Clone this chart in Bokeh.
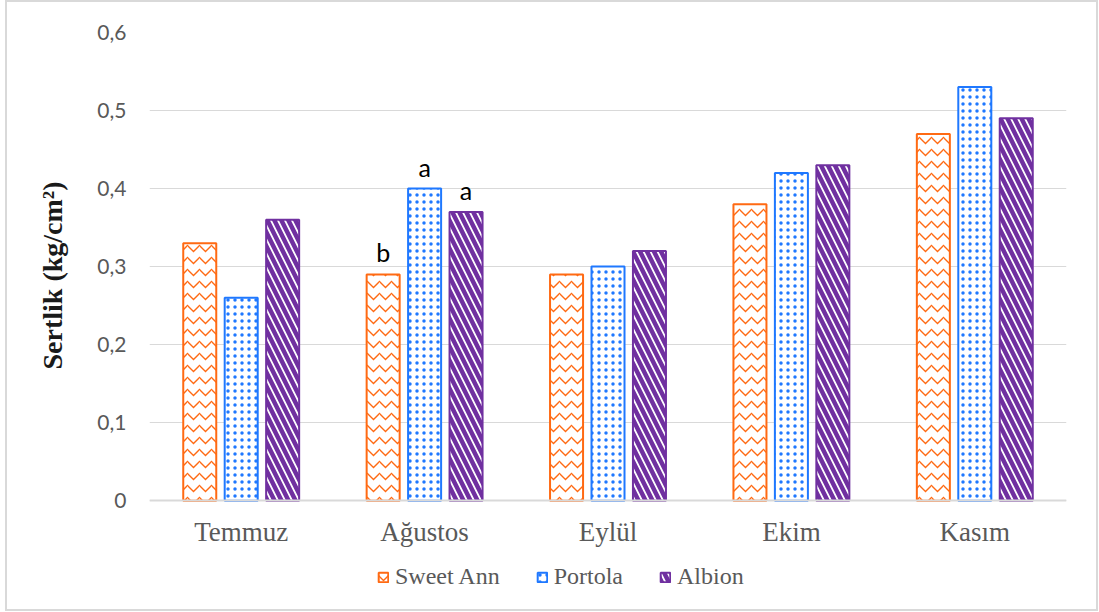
from bokeh.plotting import figure
from bokeh.models import (FactorRange, Range1d, FixedTicker, CustomJSTickFormatter,
                          ColumnDataSource, Legend, LegendItem, Title)
from bokeh.transform import dodge
from bokeh.core.properties import value
from bokeh.embed import file_html
from bokeh.resources import INLINE

months = ["Temmuz", "Ağustos", "Eylül", "Ekim", "Kasım"]
series_names = ["Sweet Ann", "Portola", "Albion"]
sweet_ann = [0.33, 0.29, 0.29, 0.38, 0.47]
portola = [0.26, 0.40, 0.30, 0.42, 0.53]
albion = [0.36, 0.37, 0.32, 0.43, 0.49]
letters_sweet = ["", "b", "", "", ""]
letters_portola = ["", "a", "", "", ""]
letters_albion = ["", "a", "", "", ""]
y_ticks = [0, 0.1, 0.2, 0.3, 0.4, 0.5, 0.6]
y_title = "Sertlik (kg/cm²)"

colors = ["#FF6A13", "#1F78FF", "#7030A0"]
patterns = ["horizontal_wave", "dot", "left_diagonal_line"]
scales = [12, 7, 14]
weights = [1.3, 1.6, 4.5]
offsets = [-0.226, 0.0, 0.226]

src = ColumnDataSource(dict(month=months, s0=sweet_ann, s1=portola, s2=albion,
                            l0=letters_sweet, l1=letters_portola, l2=letters_albion))

# frame extends below zero so the bottom legend can live inside it
p = figure(x_range=FactorRange(*months), y_range=Range1d(-0.1407, 0.6),
           width=1093, height=611, output_backend="svg", toolbar_location=None,
           min_border_left=140, min_border_right=34, min_border_top=30, min_border_bottom=3)
p.outline_line_alpha = 0
p.background_fill_color = "white"
p.border_fill_color = "white"

items = []
for i, col in enumerate(["s0", "s1", "s2"]):
    r = p.vbar(x=dodge("month", offsets[i], range=p.x_range), top=col, width=0.18,
               source=src, fill_color="white", line_color=colors[i], line_width=2,
               hatch_pattern=patterns[i], hatch_color=colors[i], hatch_scale=scales[i],
               hatch_weight=weights[i])
    items.append(LegendItem(label=series_names[i], renderers=[r]))
    p.text(x=dodge("month", offsets[i], range=p.x_range), y=col, text="l%d" % i,
           source=src, text_align="center", text_baseline="bottom", y_offset=-7,
           text_font=value("Lato"), text_font_size="25px", text_color="black")

p.yaxis.ticker = FixedTicker(ticks=y_ticks)
p.yaxis.formatter = CustomJSTickFormatter(code="return tick == 0 ? '0' : tick.toFixed(1).replace('.', ',');")
p.yaxis.axis_line_color = None
p.yaxis.major_tick_line_color = None
p.yaxis.minor_tick_line_color = None
p.yaxis.major_label_text_font = "Lato"
p.yaxis.major_label_text_font_size = "21px"
p.yaxis.major_label_text_color = "#595959"
p.yaxis.major_label_standoff = 17

p.add_layout(Title(text=y_title, align="left", offset=241, standoff=54,
                   text_font="Liberation Serif", text_font_style="bold",
                   text_font_size="28px", text_color="#1a1a1a"), "left")

p.xaxis.fixed_location = 0
p.xaxis.axis_line_color = "#d9d9d9"
p.xaxis.axis_line_width = 2
p.xaxis.major_tick_line_color = None
p.xaxis.minor_tick_line_color = None
p.xaxis.major_label_text_font = "Liberation Serif"
p.xaxis.major_label_text_font_size = "27px"
p.xaxis.major_label_text_color = "#595959"
p.xaxis.major_label_standoff = 10

p.xgrid.grid_line_color = None
p.ygrid.grid_line_color = "#d9d9d9"
p.ygrid.grid_line_width = 1.2

legend = Legend(items=items, orientation="horizontal", location=(228, 20),
                label_text_font="Liberation Serif", label_text_font_size="24px",
                label_text_color="#595959", glyph_width=12, glyph_height=12,
                spacing=36, label_standoff=6, border_line_color=None,
                background_fill_alpha=0, margin=0, padding=4)
p.add_layout(legend, "center")

p.styles = {"border": "2px solid #d9d9d9", "margin-left": "5px"}

open("out.html", "w").write(file_html(p, INLINE))
